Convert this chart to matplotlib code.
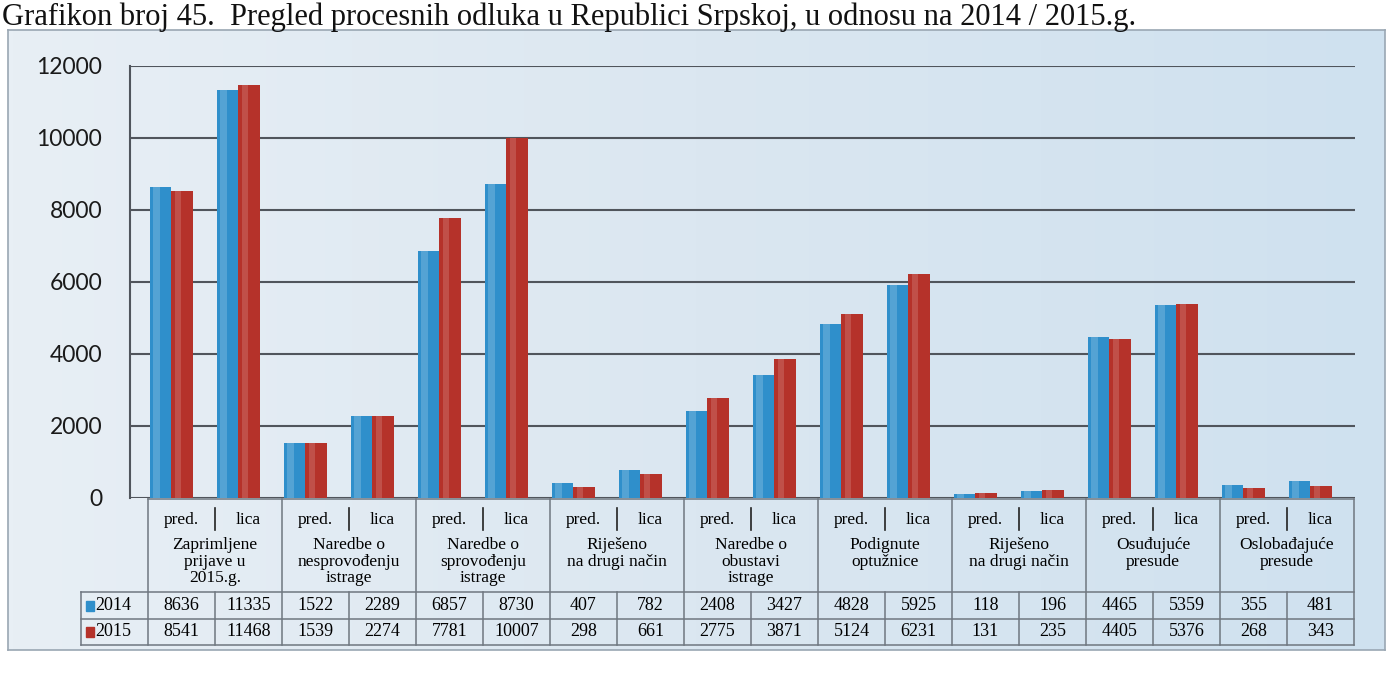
import matplotlib.pyplot as plt
import matplotlib.patches as mpatches
from matplotlib.colors import LinearSegmentedColormap
import numpy as np

# data
groups = ['Zaprimljene\nprijave u\n2015.g.', 'Naredbe o\nnesprovođenju\nistrage',
          'Naredbe o\nsprovođenju\nistrage', 'Riješeno\nna drugi način',
          'Naredbe o\nobustavi\nistrage', 'Podignute\noptužnice',
          'Riješeno\nna drugi način', 'Osuđujuće\npresude', 'Oslobađajuće\npresude']
sub = ['pred.', 'lica']
v2014 = [8636, 11335, 1522, 2289, 6857, 8730, 407, 782, 2408, 3427,
         4828, 5925, 118, 196, 4465, 5359, 355, 481]
v2015 = [8541, 11468, 1539, 2274, 7781, 10007, 298, 661, 2775, 3871,
         5124, 6231, 131, 235, 4405, 5376, 268, 343]
yticks = [0, 2000, 4000, 6000, 8000, 10000, 12000]
title = 'Grafikon broj 45.  Pregled procesnih odluka u Republici Srpskoj, u odnosu na 2014 / 2015.g.'

W, H = 1387, 675
blue = '#2f8fcb'
red = '#b5322a'
serif = 'Liberation Serif'

fig = plt.figure(figsize=(W / 100, H / 100), dpi=100)
fig.patch.set_facecolor('white')

def px(x0, y0, x1, y1):
    return [x0 / W, 1 - y1 / H, (x1 - x0) / W, (y1 - y0) / H]

# background box with gradient
bg = fig.add_axes(px(8, 30, 1385, 650))
grad = np.linspace(0, 1, 256).reshape(1, -1)
cm = LinearSegmentedColormap.from_list('bg', ['#e8eff5', '#dbe7f1', '#cfe1ef'])
bg.imshow(grad, aspect='auto', cmap=cm, extent=[0, 1, 0, 1])
bg.set_xticks([])
bg.set_yticks([])
for s in bg.spines.values():
    s.set_color('#9aa7b3')
    s.set_linewidth(1.2)

fig.text(2 / W, 1 - 2 / H, title, family=serif, fontsize=22, va='top', ha='left', color='#111')

# bar axes; column width 67 px, first column starts at x=148
col = 67.0
x0px = 148
ax = fig.add_axes(px(130, 66, 1355, 498))
ax.set_facecolor('none')
ax.set_xlim((130 - x0px) / col, (1355 - x0px) / col)
ax.set_ylim(0, 12000)
x = np.arange(len(v2014)) + 0.5
bw = 0.32
off = -0.15
ax.bar(x - bw / 2 + off, v2014, bw, color=blue, zorder=3)
ax.bar(x + bw / 2 + off, v2015, bw, color=red, zorder=3)
# cylinder-like highlight
ax.bar(x - bw / 2 + off - bw * 0.2, v2014, bw * 0.3, color='white', alpha=0.18, zorder=4)
ax.bar(x + bw / 2 + off - bw * 0.2, v2015, bw * 0.3, color='white', alpha=0.15, zorder=4)
ax.set_yticks(yticks)
ax.yaxis.grid(True, color='#50555c', linewidth=1.5, zorder=0)
ax.tick_params(axis='y', length=0, pad=20, labelsize=16.5)
for lab in ax.get_yticklabels():
    lab.set_family('Lato')
    lab.set_color('#1a1a1a')
ax.set_xticks([])
for k in ['top', 'right', 'bottom']:
    ax.spines[k].set_visible(False)
ax.spines['left'].set_color('#50555c')
ax.spines['left'].set_linewidth(1.5)

# data table
tb = fig.add_axes(px(78, 498, 1355, 647))
tb.set_xlim((78 - x0px) / col, (1355 - x0px) / col)
tb.set_ylim(647, 498)
tb.axis('off')
lc = '#6f7780'
lw = 1.1
top, hdr, mid, bot = 499, 592, 619, 645
ncol = len(v2014)
tb.plot([0, ncol], [top, top], color=lc, lw=lw)
tb.plot([-1, ncol], [hdr, hdr], color=lc, lw=lw)
tb.plot([-1, ncol], [mid, mid], color=lc, lw=lw)
tb.plot([-1, ncol], [bot, bot], color=lc, lw=lw)
tb.plot([-1, -1], [hdr, bot], color=lc, lw=lw)
for g in range(len(groups) + 1):
    tb.plot([2 * g, 2 * g], [top, bot], color=lc, lw=lw)
for g in range(len(groups)):
    tb.plot([2 * g + 1, 2 * g + 1], [508, 530], color='#222', lw=1.2)
    tb.plot([2 * g + 1, 2 * g + 1], [hdr, bot], color=lc, lw=lw)
    tb.text(2 * g + 0.5, 520, sub[0], family=serif, fontsize=12.5, ha='center', va='center')
    tb.text(2 * g + 1.5, 520, sub[1], family=serif, fontsize=12.5, ha='center', va='center')
    tb.text(2 * g + 1, 537, groups[g], family=serif, fontsize=12.5, ha='center', va='top',
            linespacing=1.05)
for i in range(ncol):
    tb.text(i + 0.5, 606, str(v2014[i]), family=serif, fontsize=13, ha='center', va='center')
    tb.text(i + 0.5, 632, str(v2015[i]), family=serif, fontsize=13, ha='center', va='center')
tb.add_patch(mpatches.Rectangle((-0.93, 601), 0.12, 10, color=blue))
tb.add_patch(mpatches.Rectangle((-0.93, 627), 0.12, 10, color=red))
tb.text(-0.78, 606, '2014', family=serif, fontsize=13, ha='left', va='center')
tb.text(-0.78, 632, '2015', family=serif, fontsize=13, ha='left', va='center')

plt.savefig('out.png', dpi=100)
